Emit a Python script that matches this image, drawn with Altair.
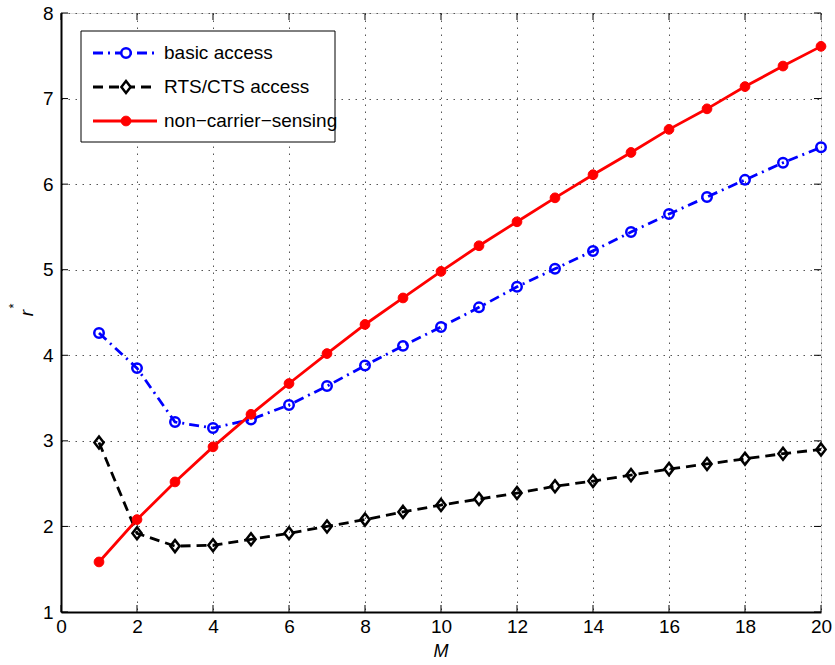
import altair as alt
import pandas as pd

# ---- data ----
M = list(range(1, 21))
basic_access = [4.26, 3.85, 3.22, 3.15, 3.25, 3.42, 3.64, 3.88, 4.11, 4.33,
                4.56, 4.80, 5.01, 5.22, 5.44, 5.65, 5.85, 6.05, 6.25, 6.43]
rts_cts_access = [2.98, 1.92, 1.77, 1.78, 1.85, 1.92, 2.00, 2.08, 2.17, 2.25,
                  2.32, 2.39, 2.47, 2.53, 2.60, 2.67, 2.73, 2.79, 2.85, 2.90]
non_carrier = [1.585, 2.08, 2.52, 2.93, 3.31, 3.67, 4.02, 4.36, 4.67, 4.98,
               5.28, 5.56, 5.84, 6.11, 6.37, 6.64, 6.88, 7.14, 7.38, 7.61]
series_names = ["basic access", "RTS/CTS access", "non\u2212carrier\u2212sensing"]
x_ticks = list(range(0, 21, 2))
y_ticks = list(range(1, 9))

W, H = 760, 599
FONT = "Liberation Sans"
FS = 19
LW = 2.8

xscale = alt.Scale(domain=[0, 20], nice=False, zero=False)
yscale = alt.Scale(domain=[1, 8], nice=False, zero=False)

xaxis = alt.Axis(values=x_ticks, tickSize=0, labelPadding=5, title=None,
                 labelFont=FONT, labelFontSize=FS, labelColor="black",
                 domainColor="black", domainWidth=2,
                 grid=True, gridDash=[1.5, 5.5], gridColor="#555555", gridWidth=1,
                 labelFlush=False)
yaxis = alt.Axis(values=y_ticks, tickSize=0, labelPadding=8, title=None,
                 labelFont=FONT, labelFontSize=FS, labelColor="black",
                 domainColor="black", domainWidth=2,
                 grid=True, gridDash=[1.5, 5.5], gridColor="#555555", gridWidth=1,
                 labelFlush=False)


def X(field):
    return alt.X(field, scale=xscale, axis=xaxis, title=None)


def Y(field):
    return alt.Y(field, scale=yscale, axis=yaxis, title=None)


styles = [
    dict(color="#0000ff", dash=[10, 5, 2, 5], shape="circle", filled=False, size=90),
    dict(color="#000000", dash=[10, 6], shape="M0,-1.3L1,0L0,1.3L-1,0Z", filled=False, size=85),
    dict(color="#ff0000", dash=None, shape="circle", filled=True, size=95),
]
values = [basic_access, rts_cts_access, non_carrier]


def point_kw(st, legend=False):
    kw = dict(shape=st["shape"], size=st["size"], opacity=1)
    if st["filled"]:
        kw.update(filled=True, fill=st["color"], stroke=st["color"], strokeWidth=1)
    else:
        kw.update(filled=False, stroke=st["color"], strokeWidth=2.5,
                  fill="white", fillOpacity=1 if legend else 0)
    return kw


layers = []
for name, vals, st in zip(series_names, values, styles):
    df = pd.DataFrame({"M": M, "r": vals, "series": name})
    line_kw = dict(color=st["color"], strokeWidth=LW)
    if st["dash"]:
        line_kw["strokeDash"] = st["dash"]
    layers.append(alt.Chart(df).mark_line(**line_kw).encode(x=X("M:Q"), y=Y("r:Q")))
    layers.append(alt.Chart(df).mark_point(**point_kw(st)).encode(x=X("M:Q"), y=Y("r:Q")))

# inward tick marks on all four sides
xt = pd.DataFrame({"t": x_ticks})
yt = pd.DataFrame({"t": y_ticks})
tick_style = dict(color="black", strokeWidth=1)
layers.append(alt.Chart(xt).mark_rule(**tick_style).encode(
    x=X("t:Q"), y=alt.value(H), y2=alt.value(H - 7)))
layers.append(alt.Chart(xt).mark_rule(**tick_style).encode(
    x=X("t:Q"), y=alt.value(0), y2=alt.value(7)))
layers.append(alt.Chart(yt).mark_rule(**tick_style).encode(
    y=Y("t:Q"), x=alt.value(0), x2=alt.value(7)))
layers.append(alt.Chart(yt).mark_rule(**tick_style).encode(
    y=Y("t:Q"), x=alt.value(W - 7), x2=alt.value(W)))

# legend box
one = pd.DataFrame({"k": [0]})
layers.append(alt.Chart(one).mark_rect(fill="white", stroke="black", strokeWidth=1).encode(
    x=alt.value(20), x2=alt.value(274), y=alt.value(18), y2=alt.value(129)))
leg_y = [40, 74, 108]
for name, st, ly in zip(series_names, styles, leg_y):
    d = pd.DataFrame({"label": [name]})
    rk = dict(color=st["color"], strokeWidth=LW)
    if st["dash"]:
        rk["strokeDash"] = st["dash"]
    layers.append(alt.Chart(d).mark_rule(**rk).encode(
        x=alt.value(32), x2=alt.value(96), y=alt.value(ly)))
    layers.append(alt.Chart(d).mark_point(**point_kw(st, legend=True)).encode(
        x=alt.value(65), y=alt.value(ly)))
    layers.append(alt.Chart(d).mark_text(align="left", baseline="middle", font=FONT,
                                         fontSize=FS, color="black").encode(
        x=alt.value(103), y=alt.value(ly), text="label:N"))

# axis titles
layers.append(alt.Chart(pd.DataFrame({"t": ["M"]})).mark_text(
    font=FONT, fontSize=18, fontStyle="italic", color="black",
    align="center", baseline="middle").encode(
    x=alt.value(W / 2), y=alt.value(H + 40), text="t:N"))
layers.append(alt.Chart(pd.DataFrame({"t": ["r"]})).mark_text(
    font=FONT, fontSize=FS, fontStyle="italic", color="black",
    align="center", baseline="alphabetic", angle=270).encode(
    x=alt.value(-28), y=alt.value(300), text="t:N"))
layers.append(alt.Chart(pd.DataFrame({"t": ["*"]})).mark_text(
    font=FONT, fontSize=13, color="black",
    align="center", baseline="middle", angle=270).encode(
    x=alt.value(-47), y=alt.value(293), text="t:N"))

chart = alt.layer(*layers).properties(
    width=W, height=H,
    autosize=alt.AutoSizeParams(type="none"),
    padding={"left": 61, "top": 13, "right": 14, "bottom": 53},
).configure_view(stroke="black", strokeWidth=1.5).configure(background="white")

chart.save("out.html", embed_options={"renderer": "svg", "actions": False})
